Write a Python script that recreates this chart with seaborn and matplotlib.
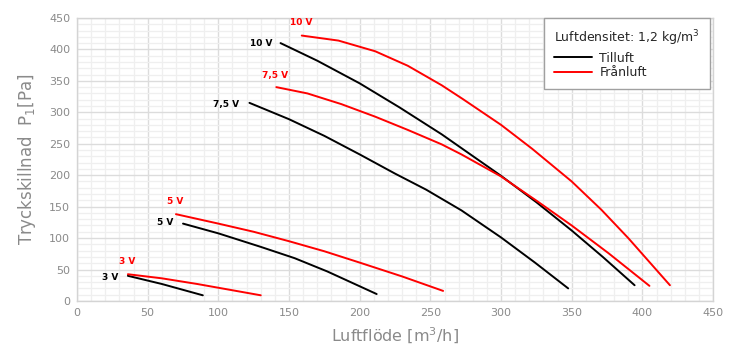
import seaborn as sns
import matplotlib.pyplot as plt
import pandas as pd
from matplotlib.lines import Line2D

# Fläktkurvor, lästa ur diagrammet
# Tilluft (svart)
t3_x = [36, 60, 89]
t3_y = [40, 27, 9]
t5_x = [75, 100, 130, 154, 177, 212]
t5_y = [123, 107.5, 86, 68, 47, 11]
t75_x = [122, 150, 175, 200, 225, 247, 272, 300, 324, 347.5]
t75_y = [315, 289, 262.5, 233, 202.5, 177, 144, 101, 61, 20]
t10_x = [144, 170, 200, 228, 258, 300, 325, 350, 372, 394.5]
t10_y = [410, 382, 346, 308, 265, 199, 157, 112, 70, 25]
# Frånluft (röd)
f3_x = [36, 60, 85, 130]
f3_y = [42.5, 36, 27, 9]
f5_x = [70, 100, 125, 150, 175, 200, 230, 259]
f5_y = [138, 123, 110, 95, 79, 61, 39, 16]
f75_x = [141, 163, 187, 211, 234, 258, 272, 300, 326, 350, 376, 405]
f75_y = [340, 330, 313, 293, 272, 249, 233, 198, 158, 120, 76, 24]
f10_x = [159, 185, 211, 234, 258, 273, 300, 322, 350, 371, 390, 419.5]
f10_y = [422, 414, 397, 374, 343, 321, 280, 242, 190, 145, 100, 25]

speeds = ['3 V', '5 V', '7,5 V', '10 V']
tilluft = [(t3_x, t3_y), (t5_x, t5_y), (t75_x, t75_y), (t10_x, t10_y)]
franluft = [(f3_x, f3_y), (f5_x, f5_y), (f75_x, f75_y), (f10_x, f10_y)]

rows = []
for typ, curves in [('Tilluft', tilluft), ('Frånluft', franluft)]:
    for s, (xs, ys) in zip(speeds, curves):
        for x, y in zip(xs, ys):
            rows.append({'flow': x, 'p': y, 'typ': typ, 'speed': s})
df = pd.DataFrame(rows)

colors = {'Tilluft': 'black', 'Frånluft': '#ff0000'}

sns.set_style('white')
plt.rcParams['font.family'] = ['DejaVu Sans']
plt.rcParams['mathtext.default'] = 'regular'

fig = plt.figure(figsize=(7.37, 3.52), dpi=100)
ax = fig.add_axes([0.1045, 0.145, 0.863, 0.804])

sns.lineplot(data=df, x='flow', y='p', hue='typ', units='speed', estimator=None,
             palette=colors, lw=1.4, sort=False, legend=False, ax=ax)

# Rutnät
ax.set_xlim(0, 450)
ax.set_ylim(0, 450)
ax.set_xticks(range(0, 451, 50))
ax.set_yticks(range(0, 451, 50))
ax.set_xticks(range(0, 451, 10), minor=True)
ax.set_yticks(range(0, 451, 10), minor=True)
ax.grid(which='major', color='#dcdcdc', lw=1.0)
ax.grid(which='minor', color='#efefef', lw=0.9)
ax.set_axisbelow(True)
ax.tick_params(which='both', length=0, labelsize=8, labelcolor='#8a8a8a', pad=5)
for sp in ax.spines.values():
    sp.set_color('#d4d4d4')
    sp.set_linewidth(1.0)

ax.set_xlabel('Luftflöde [m$^3$/h]', fontsize=11.5, color='#8a8a8a', labelpad=6)
ax.set_ylabel('Tryckskillnad  P$_1$[Pa]', fontsize=12, color='#8a8a8a', labelpad=8)

# Spänningsetiketter
t_lab = [(29, 38), (68, 124), (115, 313), (138, 410)]
f_lab = [(35.7, 62), (69.7, 158), (140, 359), (158.5, 442)]
for s, (x, y) in zip(speeds, t_lab):
    ax.text(x, y, s, fontsize=6.5, fontweight='bold', color='black', ha='right', va='center')
for s, (x, y) in zip(speeds, f_lab):
    ax.text(x, y, s, fontsize=6.5, fontweight='bold', color='#ff0000', ha='center', va='center')

handles = [Line2D([0], [0], color='black', lw=1.4), Line2D([0], [0], color='#ff0000', lw=1.4)]
leg = ax.legend(handles, ['Tilluft', 'Frånluft'], title='Luftdensitet: 1,2 kg/m$^3$',
                loc='upper right', bbox_to_anchor=(0.9955, 1.0), borderaxespad=0,
                fontsize=9, title_fontsize=9,
                frameon=True, fancybox=False, edgecolor='#a0a0a0', framealpha=1,
                handlelength=3.0, handletextpad=0.6, labelspacing=0.1, borderpad=0.8,
                alignment='left')
leg.get_frame().set_linewidth(1.0)
leg._legend_box.sep = 3

fig.savefig('out.png', dpi=100)
